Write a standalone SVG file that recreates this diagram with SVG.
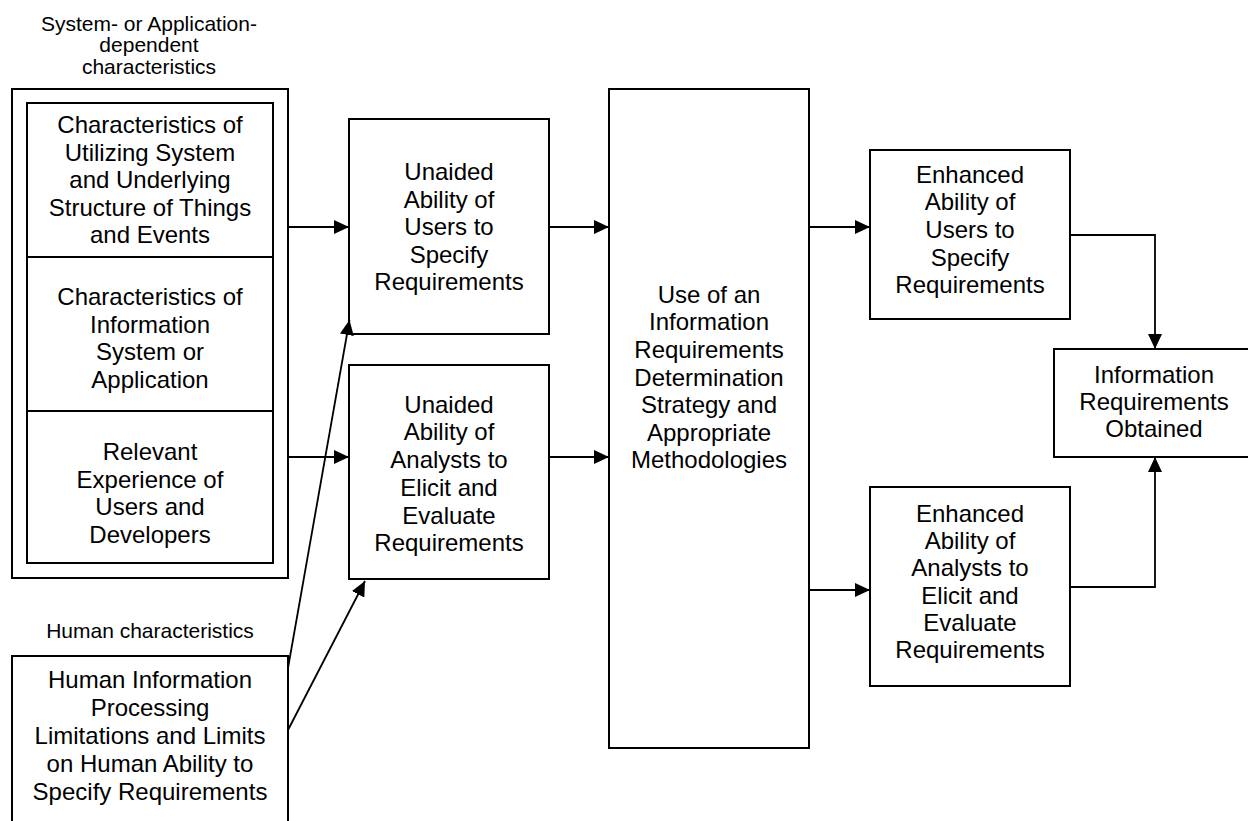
<svg xmlns="http://www.w3.org/2000/svg" width="1248" height="821" viewBox="0 0 1248 821">
  <style>
    .box { fill: #fff; stroke: #000; stroke-width: 2; }
    .div { stroke: #000; stroke-width: 2; }
    .t { font-family: "Liberation Sans", Arial, sans-serif; font-size: 24px; fill: #000; text-anchor: middle; }
    .lbl { font-family: "Liberation Sans", Arial, sans-serif; font-size: 21px; fill: #000; text-anchor: middle; }
    .conn { fill: none; stroke: #000; stroke-width: 1.8; }
  </style>
  <defs>
    <marker id="arrow" markerUnits="userSpaceOnUse" markerWidth="16" markerHeight="14" refX="15" refY="7" orient="auto">
      <path d="M0,0 L15,7 L0,14 z" fill="#000"/>
    </marker>
  </defs>

  <rect width="1248" height="821" fill="#fff"/>

  <!-- group headings -->
  <text class="lbl"><tspan x="149" y="30.5">System- or Application-</tspan><tspan x="149" y="52">dependent</tspan><tspan x="149" y="73.5">characteristics</tspan></text>
  <text class="lbl" x="150" y="638">Human characteristics</text>

  <!-- system / application dependent characteristics -->
  <g id="system-characteristics">
    <rect class="box" x="12" y="89" width="276" height="489"/>
    <rect class="box" x="27" y="103" width="246" height="460"/>
    <line class="div" x1="27" y1="257" x2="273" y2="257"/>
    <line class="div" x1="27" y1="411" x2="273" y2="411"/>
  </g>
  <g id="utilizing-system">
    <text class="t"><tspan x="150" y="133.3">Characteristics of</tspan><tspan x="150" y="160.8">Utilizing System</tspan><tspan x="150" y="188.3">and Underlying</tspan><tspan x="150" y="215.8">Structure of Things</tspan><tspan x="150" y="243.3">and Events</tspan></text>
  </g>
  <g id="information-system">
    <text class="t"><tspan x="150" y="305">Characteristics of</tspan><tspan x="150" y="332.5">Information</tspan><tspan x="150" y="360">System or</tspan><tspan x="150" y="387.5">Application</tspan></text>
  </g>
  <g id="relevant-experience">
    <text class="t"><tspan x="150" y="460">Relevant</tspan><tspan x="150" y="487.5">Experience of</tspan><tspan x="150" y="515">Users and</tspan><tspan x="150" y="542.5">Developers</tspan></text>
  </g>

  <!-- human characteristics -->
  <g id="human-limitations">
    <rect class="box" x="12" y="656" width="276" height="200"/>
    <text class="t"><tspan x="150" y="688.3">Human Information</tspan><tspan x="150" y="716.2">Processing</tspan><tspan x="150" y="744.1">Limitations and Limits</tspan><tspan x="150" y="772">on Human Ability to</tspan><tspan x="150" y="800">Specify Requirements</tspan></text>
  </g>

  <g id="unaided-users">
    <rect class="box" x="349" y="119" width="200" height="215"/>
    <text class="t"><tspan x="449" y="180">Unaided</tspan><tspan x="449" y="207.5">Ability of</tspan><tspan x="449" y="235">Users to</tspan><tspan x="449" y="262.5">Specify</tspan><tspan x="449" y="290">Requirements</tspan></text>
  </g>

  <g id="unaided-analysts">
    <rect class="box" x="349" y="365" width="200" height="214"/>
    <text class="t"><tspan x="449" y="412.7">Unaided</tspan><tspan x="449" y="440.4">Ability of</tspan><tspan x="449" y="468.1">Analysts to</tspan><tspan x="449" y="495.8">Elicit and</tspan><tspan x="449" y="523.5">Evaluate</tspan><tspan x="449" y="551.2">Requirements</tspan></text>
  </g>

  <g id="ird-strategy">
    <rect class="box" x="609" y="89" width="200" height="659"/>
    <text class="t"><tspan x="709" y="302.7">Use of an</tspan><tspan x="709" y="330.3">Information</tspan><tspan x="709" y="357.9">Requirements</tspan><tspan x="709" y="385.5">Determination</tspan><tspan x="709" y="413.1">Strategy and</tspan><tspan x="709" y="440.7">Appropriate</tspan><tspan x="709" y="468.3">Methodologies</tspan></text>
  </g>

  <g id="enhanced-users">
    <rect class="box" x="870" y="150" width="200" height="169"/>
    <text class="t"><tspan x="970" y="182.7">Enhanced</tspan><tspan x="970" y="210.3">Ability of</tspan><tspan x="970" y="238">Users to</tspan><tspan x="970" y="265.6">Specify</tspan><tspan x="970" y="293.3">Requirements</tspan></text>
  </g>

  <g id="enhanced-analysts">
    <rect class="box" x="870" y="487" width="200" height="199"/>
    <text class="t"><tspan x="970" y="521.7">Enhanced</tspan><tspan x="970" y="549">Ability of</tspan><tspan x="970" y="576.3">Analysts to</tspan><tspan x="970" y="603.6">Elicit and</tspan><tspan x="970" y="630.9">Evaluate</tspan><tspan x="970" y="658.2">Requirements</tspan></text>
  </g>

  <g id="requirements-obtained">
    <rect class="box" x="1054" y="349" width="200" height="108"/>
    <text class="t"><tspan x="1154" y="382.7">Information</tspan><tspan x="1154" y="409.7">Requirements</tspan><tspan x="1154" y="436.7">Obtained</tspan></text>
  </g>

  <!-- connectors -->
  <g id="connectors">
    <line class="conn" x1="288" y1="227" x2="349" y2="227" marker-end="url(#arrow)"/>
    <line class="conn" x1="288" y1="457" x2="349" y2="457" marker-end="url(#arrow)"/>
    <line class="conn" x1="549" y1="227" x2="609" y2="227" marker-end="url(#arrow)"/>
    <line class="conn" x1="549" y1="457" x2="609" y2="457" marker-end="url(#arrow)"/>
    <line class="conn" x1="809" y1="227" x2="870" y2="227" marker-end="url(#arrow)"/>
    <line class="conn" x1="809" y1="590" x2="870" y2="590" marker-end="url(#arrow)"/>
    <path class="conn" d="M1070,235 H1155 V349" marker-end="url(#arrow)"/>
    <path class="conn" d="M1070,587 H1155 V457" marker-end="url(#arrow)"/>
    <line class="conn" x1="288" y1="668" x2="349.5" y2="320" marker-end="url(#arrow)"/>
    <line class="conn" x1="288" y1="730" x2="365" y2="581" marker-end="url(#arrow)"/>
  </g>
</svg>
